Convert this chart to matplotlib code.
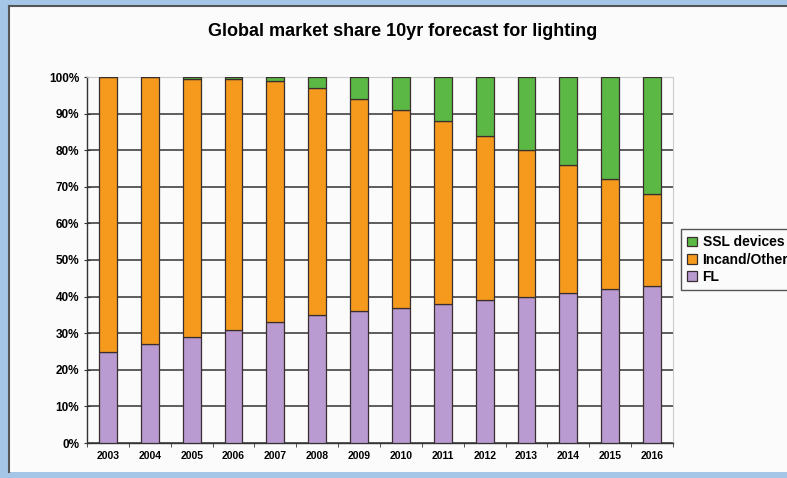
import matplotlib
matplotlib.use("Agg")
import matplotlib.pyplot as plt
from matplotlib.patches import Rectangle
from matplotlib.lines import Line2D
from matplotlib.ticker import MultipleLocator, PercentFormatter
import numpy as np

plt.rcParams['font.family'] = ['Liberation Sans', 'DejaVu Sans']

years = ['2003', '2004', '2005', '2006', '2007', '2008', '2009',
         '2010', '2011', '2012', '2013', '2014', '2015', '2016']
fl = [25, 27, 29, 31, 33, 35, 36, 37, 38, 39, 40, 41, 42, 43]
incand = [75, 73, 70.5, 68.5, 66, 62, 58, 54, 50, 45, 40, 35, 30, 25]
ssl = [0, 0, 0.5, 0.5, 1, 3, 6, 9, 12, 16, 20, 24, 28, 32]

c_fl = '#b99bd2'
c_inc = '#f59a1c'
c_ssl = '#5bb844'
edge = '#3a2d2d'

fig = plt.figure(figsize=(7.87, 4.78), dpi=100)
fig.patch.set_facecolor('#a6c6e8')

# white chart panel with a dark frame on top and left
panel = Rectangle((9 / 787, 6 / 478), 1, 466 / 478, transform=fig.transFigure,
                  facecolor='#fbfbfb', edgecolor='none', zorder=-2)
fig.patches.append(panel)
fig.lines.append(Line2D([9 / 787, 1], [472 / 478, 472 / 478], transform=fig.transFigure,
                        color='#555555', lw=1.5, zorder=-1))
fig.lines.append(Line2D([9 / 787, 9 / 787], [6 / 478, 472 / 478], transform=fig.transFigure,
                        color='#555555', lw=1.5, zorder=-1))

ax = fig.add_axes([87 / 787, 35 / 478, 586 / 787, 366 / 478])
ax.set_facecolor('#fbfbfb')

x = np.arange(len(years))
w = 0.43
fl_a = np.array(fl)
inc_a = np.array(incand)
ssl_a = np.array(ssl)
b1 = ax.bar(x, fl_a, w, color=c_fl, edgecolor=edge, lw=0.9, zorder=3, label='FL')
b2 = ax.bar(x, inc_a, w, bottom=fl_a, color=c_inc, edgecolor=edge, lw=0.9, zorder=3,
            label='Incand/Other')
b3 = ax.bar(x, ssl_a, w, bottom=fl_a + inc_a, color=c_ssl, edgecolor=edge, lw=0.9,
            zorder=3, label='SSL devices')

ax.set_xlim(-0.5, len(years) - 0.5)
ax.set_ylim(0, 100)
ax.yaxis.set_major_locator(MultipleLocator(10))
ax.yaxis.set_major_formatter(PercentFormatter(decimals=0))
ax.grid(axis='y', color='#333333', lw=1.1, zorder=1)
ax.set_axisbelow(True)
ax.set_xticks(x)
ax.set_xticklabels(years)
ax.set_xticks(np.arange(-0.5, len(years), 1), minor=True)
ax.tick_params(axis='x', which='major', length=0, pad=6, labelsize=7.5)
ax.tick_params(axis='x', which='minor', length=3, direction='out', color='#333333')
ax.tick_params(axis='y', length=4, direction='inout', labelsize=8.5, color='#333333')
for lab in ax.get_xticklabels() + ax.get_yticklabels():
    lab.set_fontweight('bold')

for s in ['top', 'right']:
    ax.spines[s].set_color('#cccccc')
    ax.spines[s].set_linewidth(0.8)
for s in ['left', 'bottom']:
    ax.spines[s].set_color('#333333')
    ax.spines[s].set_linewidth(1.0)

fig.text(0.512, 1 - 32 / 478, 'Global market share 10yr forecast for lighting',
         ha='center', va='center', fontsize=13, fontweight='bold')

leg = fig.legend([b3, b2, b1], ['SSL devices', 'Incand/Other', 'FL'],
                 loc='upper left', bbox_to_anchor=(681 / 787, 1 - 229 / 478),
                 frameon=True, fancybox=False, edgecolor='#555555',
                 prop={'size': 10, 'weight': 'bold'}, handlelength=0.7,
                 handleheight=0.7, handletextpad=0.4, labelspacing=0.25,
                 borderpad=0.45, borderaxespad=0)
leg.get_frame().set_linewidth(1.0)
leg.get_frame().set_facecolor('#fbfbfb')
leg.get_frame().set_alpha(1)

fig.savefig('out.png', dpi=100, facecolor=fig.get_facecolor())
